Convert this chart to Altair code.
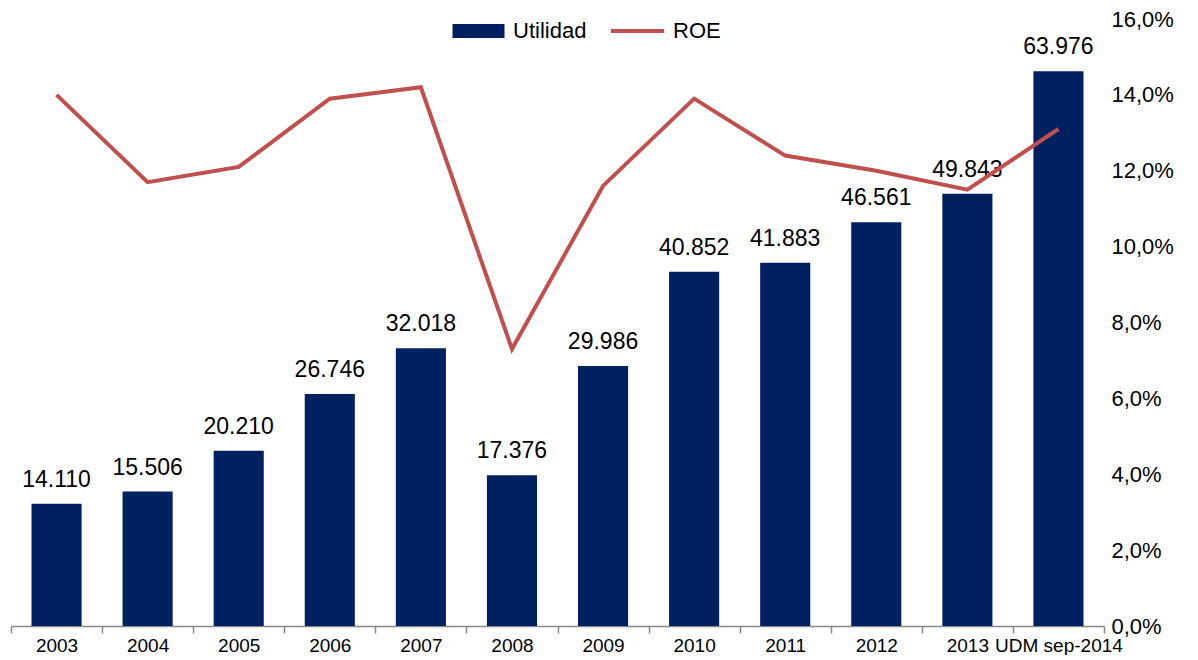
import altair as alt
import pandas as pd

anios = ["2003", "2004", "2005", "2006", "2007", "2008", "2009", "2010", "2011", "2012", "2013", "UDM sep-2014"]
utilidad = [14110, 15506, 20210, 26746, 32018, 17376, 29986, 40852, 41883, 46561, 49843, 63976]
roe = [0.140, 0.117, 0.121, 0.139, 0.142, 0.073, 0.116, 0.139, 0.124, 0.120, 0.115, 0.131]

df = pd.DataFrame({"Año": anios, "Utilidad": utilidad, "ROE": roe})

FONT = "Liberation Sans"

x_enc = alt.X(
    "Año:N",
    sort=anios,
    scale=alt.Scale(paddingInner=0, paddingOuter=0),
    axis=alt.Axis(
        title=None, labelAngle=0, tickBand="extent", grid=False,
        domainColor="#898989", tickColor="#898989", tickSize=7,
        domainWidth=1.5, tickWidth=1.5,
        labelFontSize=19, labelColor="black", labelPadding=3, labelFont=FONT,
    ),
)

base = alt.Chart(df).transform_calculate(
    sb="'Utilidad'",
    sl="'ROE'",
    etiqueta="replace(format(datum.Utilidad, ','), ',', '.')",
)

bars = base.mark_bar(width=alt.RelativeBandSize(0.55)).encode(
    x=x_enc,
    y=alt.Y("Utilidad:Q", scale=alt.Scale(domain=[0, 70000]), axis=None),
    fill=alt.Fill(
        "sb:N",
        scale=alt.Scale(domain=["Utilidad"], range=["#002060"]),
        legend=alt.Legend(
            orient="none", legendX=456.5, legendY=1, title=None,
            symbolType="M-4,-1.08H4V1.08H-4Z", symbolSize=169,
            symbolStrokeWidth=0, labelFontSize=22, labelColor="black",
            labelFont=FONT, labelOffset=23.5,
        ),
    ),
)

text = base.mark_text(
    baseline="alphabetic", dy=-17, fontSize=23, font=FONT, color="black"
).encode(
    x=x_enc,
    y=alt.Y("Utilidad:Q", scale=alt.Scale(domain=[0, 70000]), axis=None),
    text="etiqueta:N",
)

line = base.mark_line(strokeWidth=4).encode(
    x=x_enc,
    y=alt.Y(
        "ROE:Q",
        scale=alt.Scale(domain=[0, 0.16]),
        axis=alt.Axis(
            orient="right", title=None, domain=False, ticks=False, grid=False,
            values=[0, 0.02, 0.04, 0.06, 0.08, 0.10, 0.12, 0.14, 0.16],
            labelExpr="replace(format(datum.value, '.1%'), '.', ',')",
            labelFontSize=22, labelColor="black", labelFont=FONT, labelPadding=7,
        ),
    ),
    stroke=alt.Stroke(
        "sl:N",
        scale=alt.Scale(domain=["ROE"], range=["#C0504D"]),
        legend=alt.Legend(
            orient="none", legendX=615.5, legendY=1, title=None,
            symbolType="M-4.1,0H4.1", symbolSize=169, symbolStrokeWidth=4,
            labelFontSize=22, labelColor="black", labelFont=FONT, labelOffset=24.5,
        ),
    ),
)

chart = alt.layer(alt.layer(bars, text), line).resolve_scale(
    y="independent", fill="independent", stroke="independent"
).properties(
    width=1093, height=607,
    padding={"left": 2, "top": 0, "right": 5, "bottom": 0},
).configure(font=FONT, view=alt.ViewConfig(stroke=None))

chart.save("out.html", embed_options={"renderer": "svg", "actions": False})
